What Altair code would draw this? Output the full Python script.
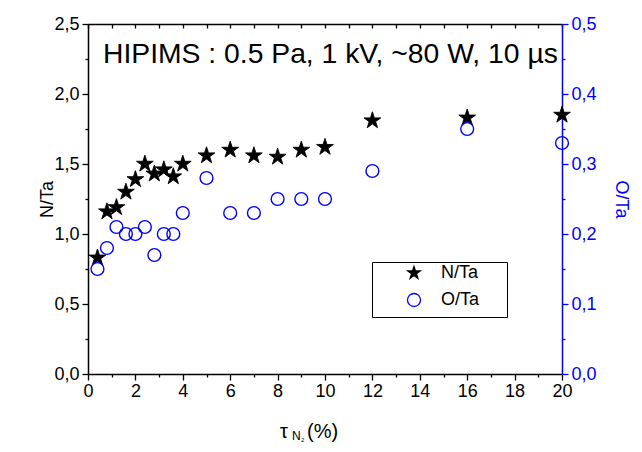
import altair as alt
import pandas as pd

# ---- data ----
tau = [0.4, 0.8, 1.2, 1.6, 2.0, 2.4, 2.8, 3.2, 3.6, 4, 5, 6, 7, 8, 9, 10, 12, 16, 20]
n_ta = [0.83, 1.16, 1.19, 1.30, 1.39, 1.50, 1.43, 1.46, 1.41, 1.50, 1.56, 1.60,
        1.56, 1.55, 1.60, 1.62, 1.81, 1.83, 1.85]
o_ta = [0.15, 0.18, 0.21, 0.20, 0.20, 0.21, 0.17, 0.20, 0.20, 0.23, 0.28, 0.23,
        0.23, 0.25, 0.25, 0.25, 0.29, 0.35, 0.33]
series = ["N/Ta", "O/Ta"]
annotation = "HIPIMS : 0.5 Pa, 1 kV, ~80 W, 10 \u00b5s"
x_ticks = list(range(0, 21))
y_left_ticks = [round(i * 0.25, 2) for i in range(11)]
y_right_ticks = [round(i * 0.05, 2) for i in range(11)]

FONT = "Liberation Sans"
BLUE = "#0000ff"
W, H = 474, 350
STAR = ("M0,-1L0.2245,-0.309L0.9511,-0.309L0.3633,0.118L0.5878,0.809L0,0.382"
        "L-0.5878,0.809L-0.3633,0.118L-0.9511,-0.309L-0.2245,-0.309Z")

df_n = pd.DataFrame({"tau": tau, "val": n_ta, "series": series[0]})
df_o = pd.DataFrame({"tau": tau, "val": o_ta, "series": series[1]})

xscale = alt.Scale(domain=[0, 20], nice=False, zero=False)

legend = alt.Legend(orient="none", legendX=284, legendY=238, title=" ",
                    titleOrient="bottom", titleFontSize=6, titlePadding=0,
                    strokeColor="black", fillColor="white", padding=2,
                    labelFontSize=18, labelFont=FONT, labelColor="black",
                    labelExpr="datum.label + '\u00a0\u00a0\u00a0\u00a0\u00a0\u200b'",
                    symbolSize=170, symbolOffset=31, labelOffset=18,
                    rowPadding=8, symbolStrokeWidth=1.3)
fill_enc = alt.Fill("series:N", scale=alt.Scale(domain=series, range=["black", "transparent"]), legend=legend)
stroke_enc = alt.Stroke("series:N", scale=alt.Scale(domain=series, range=["black", BLUE]), legend=legend)
shape_enc = alt.Shape("series:N", scale=alt.Scale(domain=series, range=[STAR, "circle"]), legend=legend)

major_x = {"condition": {"test": "datum.value % 2 === 0", "value": 6}, "value": 3}
major_yl = {"condition": {"test": "round(datum.value * 2) === datum.value * 2", "value": 6}, "value": 3}
major_yr = {"condition": {"test": "abs(datum.value * 10 - round(datum.value * 10)) < 1e-6", "value": 6}, "value": 3}

stars = alt.Chart(df_n).mark_point(size=310, strokeWidth=0.9, opacity=1).encode(
    x=alt.X("tau:Q", scale=xscale,
            axis=alt.Axis(orient="bottom", values=x_ticks, title=None,
                          labelExpr="datum.value % 2 === 0 ? datum.label : ''",
                          tickSize=major_x, labelPadding=2, labelFlush=False)),
    y=alt.Y("val:Q", scale=alt.Scale(domain=[0, 2.5], nice=False),
            axis=alt.Axis(orient="left", values=y_left_ticks, title="N/Ta",
                          labelExpr="round(datum.value * 2) === datum.value * 2 ? replace(format(datum.value, '.1f'), '.', ',') : ''",
                          tickSize=major_yl, labelPadding=3, titlePadding=-3)),
    fill=fill_enc, stroke=stroke_enc, shape=shape_enc,
)

circles = alt.Chart(df_o).mark_point(size=165, strokeWidth=1.4, opacity=1).encode(
    x=alt.X("tau:Q", scale=xscale,
            axis=alt.Axis(orient="bottom", offset=-H, values=x_ticks, title=None,
                          labels=False, tickSize=4)),
    y=alt.Y("val:Q", scale=alt.Scale(domain=[0, 0.5], nice=False),
            axis=alt.Axis(orient="right", values=y_right_ticks, title="O/Ta",
                          labelExpr="abs(datum.value * 10 - round(datum.value * 10)) < 1e-6 ? replace(format(datum.value, '.1f'), '.', ',') : ''",
                          tickSize=major_yr, labelPadding=3, titlePadding=15,
                          domainColor=BLUE, tickColor=BLUE, labelColor=BLUE,
                          titleColor=BLUE)),
    fill=fill_enc, stroke=stroke_enc, shape=shape_enc,
)

def label(txt, x, y, size, align="left", baseline="alphabetic"):
    return alt.Chart(pd.DataFrame({"t": [txt]})).mark_text(
        x=x, y=y, fontSize=size, font=FONT, align=align, baseline=baseline,
        color="black").encode(text="t:N")

ann = label(annotation, 15, 39, 28.3)
xt1 = label("\u03c4", 192, 414, 20)
xt2 = label("N", 204, 416, 12)
xt3 = label("2", 213, 418, 6)
xt4 = label("(%)", 219, 414, 20)

chart = alt.layer(stars, circles, ann, xt1, xt2, xt3, xt4).resolve_scale(
    y="independent"
).resolve_axis(x="independent", y="independent").properties(
    width=W, height=H,
    padding={"left": 80, "top": 16, "right": 72, "bottom": 70},
    autosize=alt.AutoSizeParams(type="none"),
    background="white",
).configure_view(stroke=None).configure_axis(
    grid=False, labelFont=FONT, labelFontSize=18, titleFont=FONT,
    titleFontSize=18, titleFontWeight="normal", domainColor="black",
    tickColor="black", labelColor="black", titleColor="black",
    domainWidth=1.5, tickWidth=1.3,
)

chart.save("out.html", embed_options={"renderer": "svg", "actions": False})
